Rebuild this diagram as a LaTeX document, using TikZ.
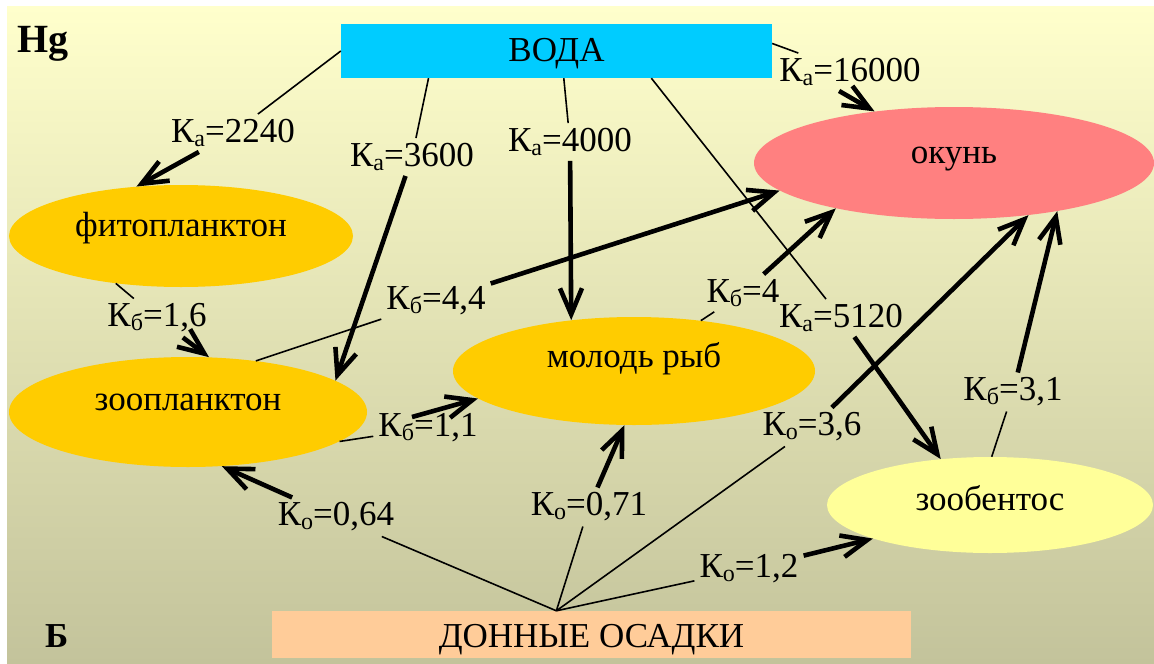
\documentclass[tikz,border=0pt]{standalone}
\usepackage{fontspec}
\setmainfont{Liberation Serif}
\usetikzlibrary{arrows.meta,shapes.geometric,calc}
\definecolor{bgtop}{HTML}{FFFFCC}
\definecolor{bgbot}{HTML}{C3C39B}
\definecolor{vodac}{HTML}{00CCFF}
\definecolor{okunc}{HTML}{FF8080}
\definecolor{orngc}{HTML}{FFCC00}
\definecolor{zbenc}{HTML}{FFFF99}
\definecolor{donnc}{HTML}{FFCC99}
\newcommand\kl[2]{К\raisebox{-4pt}{\fontsize{24}{24}\selectfont #1}=#2}
\begin{document}
\begin{tikzpicture}[x=1pt,y=-1pt,
  every node/.style={font=\rmfamily\fontsize{35}{40}\selectfont, inner sep=0pt},
  blob/.style={ellipse, inner sep=0pt, text height=12pt, text depth=12pt},
  rbox/.style={rectangle, inner sep=0pt},
  lab/.style={inner sep=5pt},
  thinln/.style={line width=1.6pt},
  arr/.style={line width=4.6pt, -{Straight Barb[length=26pt,width=22pt]}}]
\useasboundingbox (0,0) rectangle (1154,664);
\fill[white] (0,0) rectangle (1154,664);
\shade[top color=bgtop, bottom color=bgbot] (7,6) rectangle (1154,664);

% main nodes
\node[rbox, fill=vodac, minimum width=431pt, minimum height=54pt, text height=22pt, text depth=2pt] (voda) at (556.5,51) {ВОДА};
\node[rbox, fill=donnc, minimum width=639pt, minimum height=47pt, text height=25pt, text depth=0pt] (don) at (591.5,634.5) {ДОННЫЕ ОСАДКИ};
\node[blob, fill=okunc, minimum width=400pt, minimum height=112pt] (okun) at (954,163) {окунь};
\node[blob, fill=orngc, minimum width=344pt, minimum height=102pt] (fito) at (181,236) {фитопланктон};
\node[blob, fill=orngc, minimum width=358pt, minimum height=110pt, text height=10pt, text depth=14pt] (zoo) at (188,412) {зоопланктон};
\node[blob, fill=orngc, minimum width=362pt, minimum height=108pt, text height=8pt, text depth=16pt] (mol) at (634,371) {молодь рыб};
\node[blob, fill=zbenc, minimum width=326pt, minimum height=96pt, text height=17pt, text depth=7pt] (zben) at (990,505) {зообентос};

\node[font=\rmfamily\bfseries\fontsize{40}{44}\selectfont, anchor=base west] (hg) at (17,52) {Hg};
\node[font=\rmfamily\bfseries\fontsize{35}{40}\selectfont, anchor=base west] (bb) at (45,647) {Б};

% labels
\node[lab] (L1) at (233,133) {\kl{а}{2240}};
\node[lab] (L2) at (412,157) {\kl{а}{3600}};
\node[lab] (L3) at (570,142) {\kl{а}{4000}};
\node[lab] (L4) at (841,318) {\kl{а}{5120}};
\node[lab] (L5) at (850,72) {\kl{а}{16000}};
\node[lab] (L6) at (157,318) {\kl{б}{1,6}};
\node[lab] (L7) at (436,301) {\kl{б}{4,4}};
\node[lab] (L8) at (428,428) {\kl{б}{1,1}};
\node[lab] (L9) at (743,293) {\kl{б}{4}};
\node[lab] (L10) at (1013,392) {\kl{б}{3,1}};
\node[lab] (L11) at (336,517) {\kl{о}{0,64}};
\node[lab] (L12) at (589,507) {\kl{о}{0,71}};
\node[lab] (L13) at (812,427) {\kl{о}{3,6}};
\node[lab] (L14) at (749,569) {\kl{о}{1,2}};

\coordinate (hub) at (don.146);

% thin segments
\draw[thinln] (voda.west) -- (L1);
\draw[thinln] (voda.192) -- (L2);
\draw[thinln] (voda.285) -- (L3);
\draw[thinln] (voda.344) -- (L4);
\draw[thinln] (voda.2) -- (L5);
\draw[thinln] (fito.216) -- (L6);
\draw[thinln] (zoo.37) -- (L7);
\draw[thinln] (zoo.349) -- (L8);
\draw[thinln] (mol.37) -- (L9);
\draw[thinln] (zben.88) -- (L10);
\draw[thinln] (hub) -- (L11);
\draw[thinln] (hub) -- (L12);
\draw[thinln] (hub) -- (L13);
\draw[thinln] (hub) -- (L14);

% thick arrows
\draw[arr] (L1) -- (fito.132);
\draw[arr] (L2) -- (zoo.12);
\draw[arr] (L3) -- (mol.141);
\draw[arr] (L4) -- (zben.137);
\draw[arr] (L5.240) -- (okun.147);
\draw[arr] (L6) -- (zoo.69);
\draw[arr] (L7) -- (okun.189);
\draw[arr] ($(L8)+(-16,-11)$) -- (mol.190);
\draw[arr] (L9) -- (okun.201);
\draw[arr] (L10) -- (okun.335);
\draw[arr] (L11) -- (zoo.302);
\draw[arr] (L12) -- (mol.260);
\draw[arr] (L13) -- (okun.325);
\draw[arr] (L14) -- (zben.196);
\end{tikzpicture}
\end{document}
